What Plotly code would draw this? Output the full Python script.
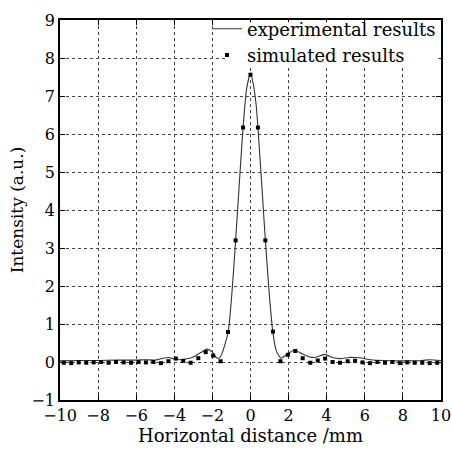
import plotly.graph_objects as go

# Simulated results (sampled points)
sim_x = [-9.8, -9.41, -9.02, -8.62, -8.23, -7.84, -7.45, -7.06, -6.66, -6.27,
         -5.88, -5.49, -5.1, -4.7, -4.31, -3.92, -3.53, -3.14, -2.74, -2.35,
         -1.96, -1.57, -1.18, -0.78, -0.39, 0.0, 0.39, 0.78, 1.18, 1.57,
         1.96, 2.35, 2.74, 3.14, 3.53, 3.92, 4.31, 4.7, 5.1, 5.49,
         5.88, 6.27, 6.66, 7.06, 7.45, 7.84, 8.23, 8.62, 9.02, 9.41, 9.8]
sim_y = [-0.02, -0.03, -0.01, -0.02, -0.01, 0.0, -0.02, 0.0, -0.01, -0.02,
         0.0, -0.01, 0.0, -0.03, 0.02, 0.09, 0.03, -0.02, 0.1, 0.26,
         0.17, 0.02, 0.79, 3.2, 6.17, 7.56, 6.17, 3.2, 0.8, 0.02,
         0.19, 0.29, 0.1, -0.02, 0.04, 0.09, 0.0, -0.02, 0.02, 0.03,
         -0.01, -0.03, 0.0, -0.02, 0.0, -0.03, -0.01, -0.02, -0.02, -0.03, -0.02]

# Experimental results (continuous curve)
exp_x = [-10, -9, -8, -7, -6, -5.5, -5.0, -4.6, -4.3, -4.0, -3.7, -3.4, -3.0,
         -2.6, -2.3, -2.0, -1.8, -1.65, -1.5, -1.35, -1.17, -1.0, -0.78, -0.6,
         -0.39, -0.2, 0.0, 0.15, 0.3, 0.39, 0.6, 0.78, 1.0, 1.17, 1.35, 1.6,
         1.9, 2.3, 2.7, 3.1, 3.4, 3.9, 4.3, 4.7, 5.2, 5.7, 6.3, 7, 8, 9, 9.4, 10]
exp_y = [0.03, 0.04, 0.04, 0.05, 0.05, 0.06, 0.05, 0.1, 0.12, 0.08, 0.06, 0.08, 0.13,
         0.25, 0.34, 0.26, 0.12, 0.1, 0.22, 0.45, 0.79, 1.65, 3.2, 4.6,
         6.17, 7.2, 7.6, 7.3, 6.75, 6.17, 4.6, 3.2, 1.7, 0.8, 0.3, 0.1,
         0.2, 0.31, 0.22, 0.13, 0.12, 0.2, 0.12, 0.09, 0.12, 0.11, 0.06, 0.04, 0.03, 0.04, 0.06, 0.04]

x_ticks = [-10, -8, -6, -4, -2, 0, 2, 4, 6, 8, 10]
y_ticks = [-1, 0, 1, 2, 3, 4, 5, 6, 7, 8, 9]

FONT = "DejaVu Serif"

fig = go.Figure()
fig.add_trace(go.Scatter(
    x=exp_x, y=exp_y, mode="lines", name="experimental results",
    line=dict(color="#333333", width=1.1, shape="spline", smoothing=0.6),
))
fig.add_trace(go.Scatter(
    x=sim_x, y=sim_y, mode="markers", name="simulated results",
    marker=dict(symbol="square", size=4, color="black", line=dict(width=0)),
))

axis_common = dict(
    showline=True, linecolor="black", linewidth=1.5, mirror="ticks",
    ticks="inside", ticklen=5, tickcolor="black", tickwidth=1,
    showgrid=True, gridcolor="#444444", griddash="dot", gridwidth=1,
    zeroline=False, automargin=False,
    tickfont=dict(family=FONT, size=16, color="black"),
)

fig.update_xaxes(range=[-10, 10], tickvals=x_ticks,
                 title=dict(text="Horizontal distance /mm", font=dict(family=FONT, size=18, color="black"), standoff=2),
                 **axis_common)
fig.update_yaxes(range=[-1, 9], tickvals=y_ticks,
                 title=dict(text="Intensity (a.u.)", font=dict(family=FONT, size=17, color="black"), standoff=4),
                 **axis_common)

# white patch behind the legend text (hides gridlines there, keeps the frame)
fig.add_shape(type="rect", xref="paper", yref="paper",
              x0=0.44, x1=0.994, y0=0.878, y1=0.994,
              fillcolor="white", line=dict(width=0), layer="above")

fig.update_layout(
    width=452, height=453,
    margin=dict(l=60, r=11, t=15, b=53),
    paper_bgcolor="white", plot_bgcolor="white",
    font=dict(family=FONT, color="black"),
    showlegend=True,
    legend=dict(x=1.0, y=1.025, xanchor="right", yanchor="top",
                bgcolor="rgba(0,0,0,0)", borderwidth=0,
                font=dict(family=FONT, size=18, color="black"),
                itemwidth=30, tracegroupgap=0),
)

fig.write_html("out.html")
